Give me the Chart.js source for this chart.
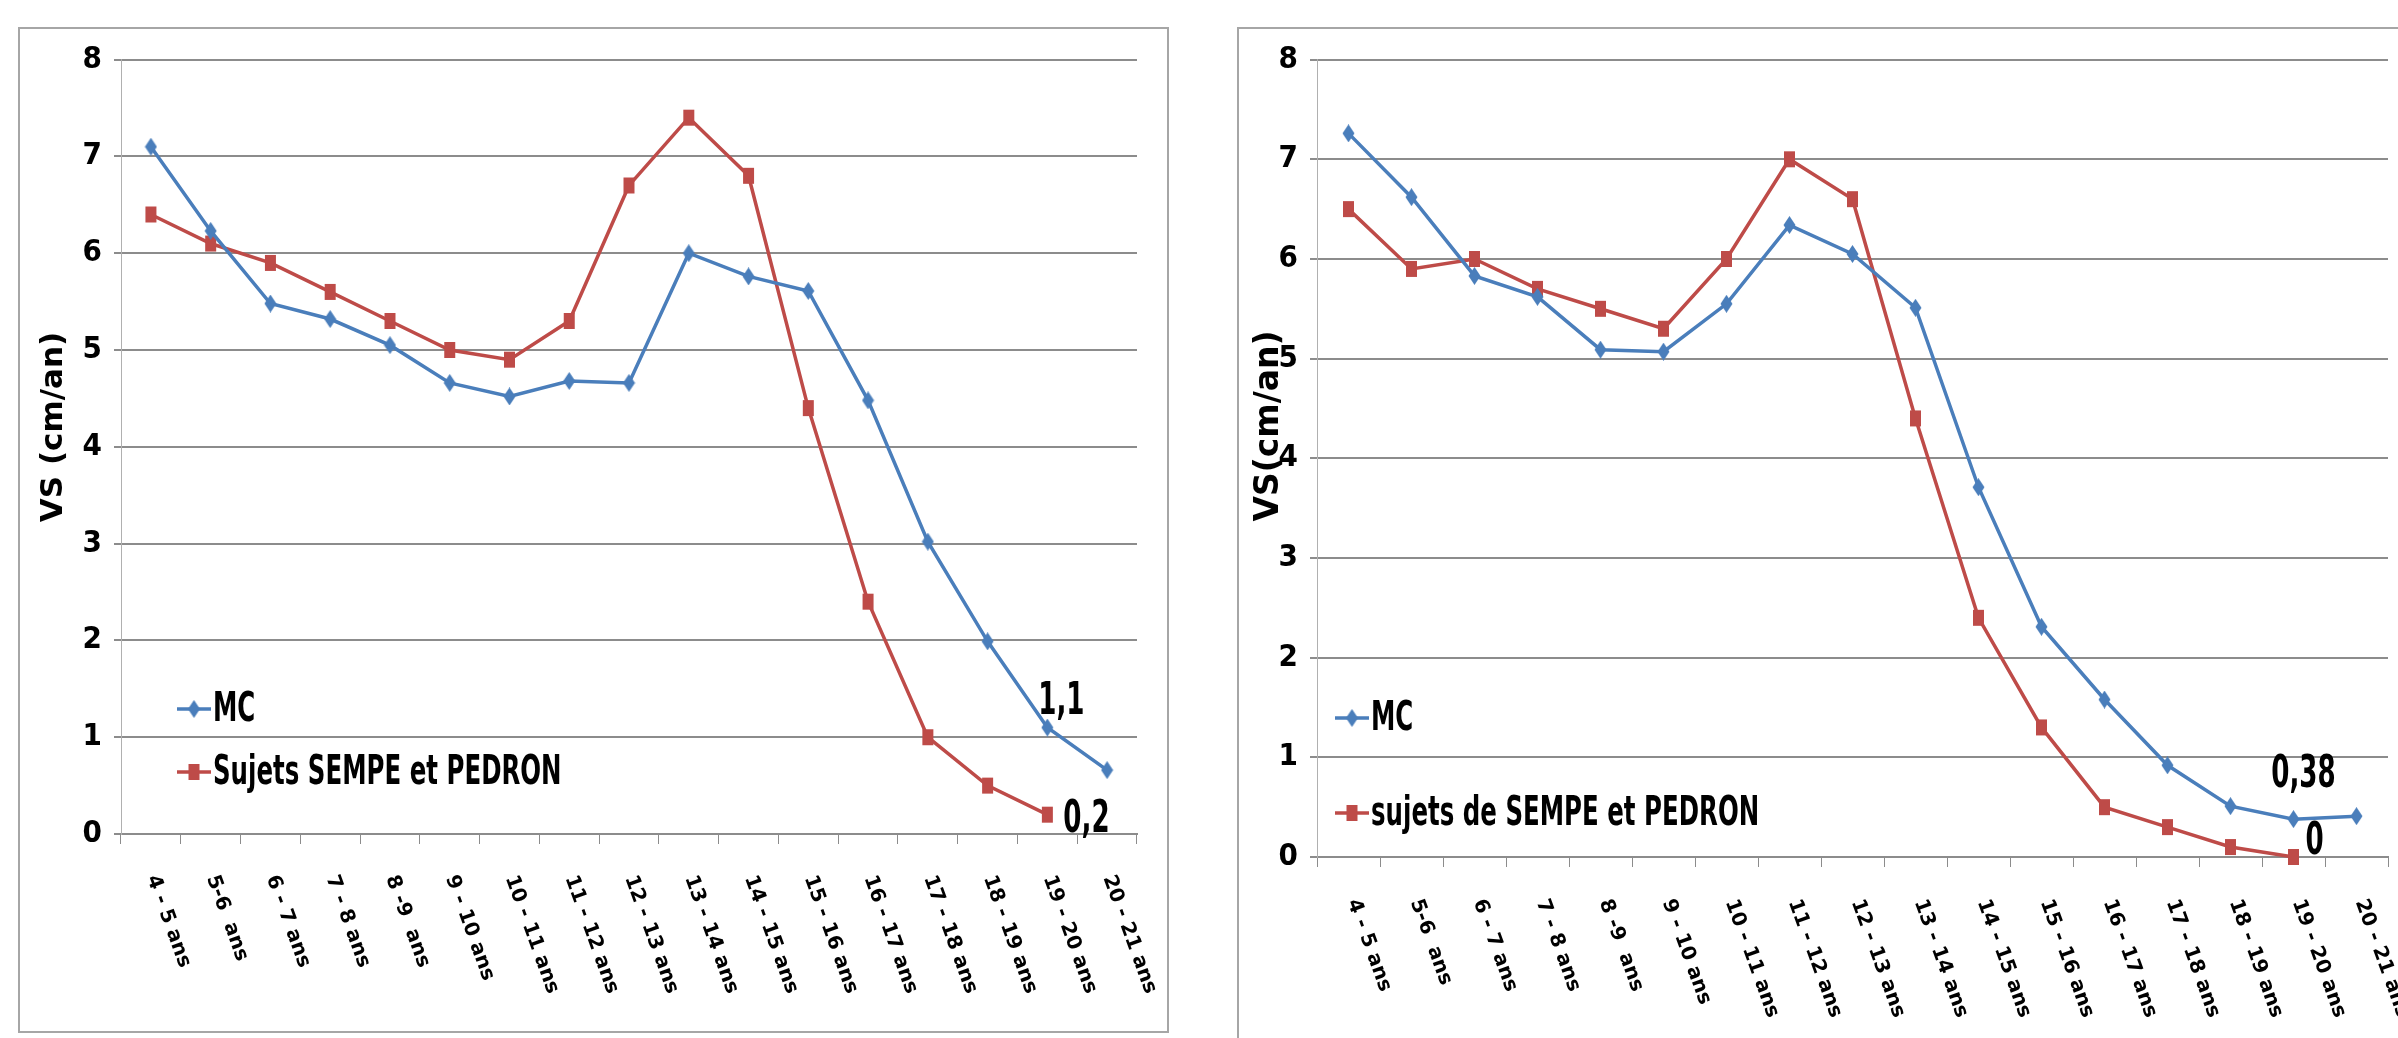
<!doctype html>
<html lang="fr">
<head>
<meta charset="utf-8">
<title>VS (cm/an) - MC et sujets SEMPE et PEDRON</title>
<script src="https://cdn.jsdelivr.net/npm/chart.js"></script>
<style>
  body { margin: 0; width: 2398px; height: 1038px; background: #fff; overflow: hidden; position: relative; }
  .frame { position: absolute; border: 2px solid #a6a6a6; box-sizing: border-box; }
  #f1 { left: 18px; top: 27px; width: 1151px; height: 1006px; }
  #f2 { left: 1237px; top: 27px; width: 1200px; height: 1040px; }
  canvas { display: block; }
</style>
</head>
<body>

<div class="frame" id="f1"><canvas id="chartLeft" width="1147" height="1002"></canvas></div>
<div class="frame" id="f2"><canvas id="chartRight" width="1159" height="1009"></canvas></div>

<script>
// === DATA ===
const ageLabels = ['4 - 5 ans', '5-6  ans', '6 - 7 ans', '7 - 8 ans', '8 -9  ans', '9 - 10 ans',
  '10 - 11 ans', '11 - 12 ans', '12 - 13 ans', '13 - 14 ans', '14 - 15 ans', '15 - 16 ans',
  '16 - 17 ans', '17 - 18 ans', '18 - 19 ans', '19 - 20 ans', '20 - 21 ans'];

// left chart
const mcLeft = [7.1, 6.23, 5.48, 5.32, 5.05, 4.66, 4.52, 4.68, 4.66, 6.0, 5.76, 5.61, 4.48, 3.02, 1.99, 1.1, 0.66];
const sempeLeft = [6.4, 6.1, 5.9, 5.6, 5.3, 5.0, 4.9, 5.3, 6.7, 7.4, 6.8, 4.4, 2.4, 1.0, 0.5, 0.2, null];

// right chart
const mcRight = [7.26, 6.62, 5.83, 5.62, 5.09, 5.07, 5.55, 6.34, 6.05, 5.51, 3.71, 2.31, 1.58, 0.92, 0.51, 0.38, 0.41];
const sempeRight = [6.5, 5.9, 6.0, 5.7, 5.5, 5.3, 6.0, 7.0, 6.6, 4.4, 2.4, 1.3, 0.5, 0.3, 0.1, 0, null];

const yMin = 0, yMax = 8, yStep = 1;

// === STYLE ===
const BLUE = '#4a7ebb';
const RED = '#be4b48';
const GRID = '#8c8c8c';
const NARROW = '"DejaVu Sans Condensed", "Liberation Sans Narrow", sans-serif';

// tall marker shapes like the Excel ones
function makeMarker(kind, color) {
  const c = document.createElement('canvas');
  c.width = 13; c.height = 18;
  const g = c.getContext('2d');
  g.fillStyle = color;
  if (kind === 'rect') {
    g.fillRect(1, 1, 11, 16);
  } else {
    g.beginPath();
    g.moveTo(6.5, 0); g.lineTo(12.5, 9); g.lineTo(6.5, 18); g.lineTo(0.5, 9);
    g.closePath(); g.fill();
  }
  return c;
}
const diamond = makeMarker('diamond', BLUE);
const square = makeMarker('rect', RED);

function frNum(v) {
  return String(v).replace('.', ',');
}

// squeezed text, the Excel fonts are tall and narrow
function narrowText(ctx, txt, x, y, align, squeeze) {
  ctx.save();
  ctx.translate(x, y);
  ctx.scale(squeeze, 1);
  ctx.textAlign = align;
  ctx.fillText(txt, 0, 0);
  ctx.restore();
}

// === PLUGIN: rotated x labels, y title, legend inside the plot, value labels ===
const extras = {
  id: 'extras',
  afterDraw(chart, args, o) {
    const ctx = chart.ctx;
    const xs = chart.scales.x;
    ctx.save();
    ctx.fillStyle = '#000';

    // x labels, rotated clockwise
    ctx.font = 'bold 20px "DejaVu Sans"';
    ctx.textAlign = 'left';
    ctx.textBaseline = 'middle';
    chart.data.labels.forEach((lab, i) => {
      ctx.save();
      ctx.translate(xs.getPixelForValue(i) + o.labelDx, xs.top + o.labelDy);
      ctx.rotate(70 * Math.PI / 180);
      ctx.fillText(lab, 0, 0);
      ctx.restore();
    });

    // y axis title
    ctx.save();
    ctx.font = 'bold ' + o.titleSize + 'px "DejaVu Sans"';
    ctx.textAlign = 'center';
    ctx.textBaseline = 'middle';
    ctx.translate(o.titleX, o.titleY);
    ctx.rotate(-Math.PI / 2);
    ctx.fillText(o.title, 0, 0);
    ctx.restore();

    // legend
    ctx.font = 'bold 40px ' + NARROW;
    ctx.textBaseline = 'middle';
    chart.data.datasets.forEach((ds, i) => {
      const ly = o.legendY[i];
      ctx.strokeStyle = ds.borderColor;
      ctx.lineWidth = 3.5;
      ctx.beginPath();
      ctx.moveTo(o.legendX, ly);
      ctx.lineTo(o.legendX + 34, ly);
      ctx.stroke();
      const img = ds.pointStyle;
      ctx.drawImage(img, o.legendX + 17 - img.width / 2, ly - img.height / 2);
      narrowText(ctx, ds.label, o.legendX + 36, ly + 2, 'left', 0.68);
    });

    // value labels
    ctx.font = 'bold 44px ' + NARROW;
    ctx.textBaseline = 'alphabetic';
    o.valueLabels.forEach(v => {
      const pt = chart.getDatasetMeta(v.ds).data[v.index];
      const val = chart.data.datasets[v.ds].data[v.index];
      narrowText(ctx, frNum(val), pt.x + v.dx, pt.y + v.dy, v.align, 0.66);
    });

    ctx.restore();
  }
};

function makeChart(id, mc, sempe, sempeLabel, cfg) {
  return new Chart(document.getElementById(id), {
    type: 'line',
    data: {
      labels: ageLabels,
      datasets: [{
        label: 'MC',
        data: mc,
        borderColor: BLUE,
        backgroundColor: BLUE,
        borderWidth: 3.5,
        pointStyle: diamond,
        tension: 0,
        clip: false
      }, {
        label: sempeLabel,
        data: sempe,
        borderColor: RED,
        backgroundColor: RED,
        borderWidth: 3.5,
        pointStyle: square,
        tension: 0,
        clip: false
      }]
    },
    options: {
      responsive: false,
      animation: false,
      layout: { padding: { top: 20, right: cfg.padRight, left: 0, bottom: 0 } },
      plugins: {
        legend: { display: false },
        tooltip: { enabled: false },
        extras: cfg.extras
      },
      scales: {
        x: {
          offset: true,
          grid: { offset: true, drawOnChartArea: false, drawTicks: true, tickLength: 10, color: GRID, lineWidth: 1 },
          border: { display: true, color: GRID, width: 2 },
          ticks: { display: false },
          afterFit: s => { s.height = cfg.xHeight; }
        },
        y: {
          min: yMin,
          max: yMax,
          ticks: {
            stepSize: yStep,
            color: '#000',
            padding: 12,
            font: { family: NARROW, size: 31, weight: 'bold' }
          },
          grid: { color: GRID, lineWidth: 2, tickLength: 7 },
          border: { display: true, color: '#b0b0b0', width: 1 },
          afterFit: s => { s.width = cfg.yWidth; }
        }
      }
    },
    plugins: [extras]
  });
}

// === LEFT CHART ===
makeChart('chartLeft', mcLeft, sempeLeft, 'Sujets SEMPE et PEDRON', {
  padRight: 30, xHeight: 197, yWidth: 101,
  extras: {
    labelDx: 1, labelDy: 42,
    title: 'VS (cm/an)', titleSize: 31, titleX: 34, titleY: 398,
    legendX: 157, legendY: [680, 743],
    valueLabels: [
      { ds: 0, index: 15, dx: 14, dy: -14, align: 'center' },
      { ds: 1, index: 15, dx: 16, dy: 17, align: 'left' }
    ]
  }
});

// === RIGHT CHART ===
makeChart('chartRight', mcRight, sempeRight, 'sujets de SEMPE et PEDRON', {
  padRight: 10, xHeight: 181, yWidth: 78,
  extras: {
    labelDx: 4, labelDy: 43,
    title: 'VS(cm/an)', titleSize: 33, titleX: 30, titleY: 397,
    legendX: 96, legendY: [689, 784],
    valueLabels: [
      { ds: 0, index: 15, dx: 10, dy: -32, align: 'center' },
      { ds: 1, index: 15, dx: 12, dy: -3, align: 'left' }
    ]
  }
});
</script>

</body>
</html>
